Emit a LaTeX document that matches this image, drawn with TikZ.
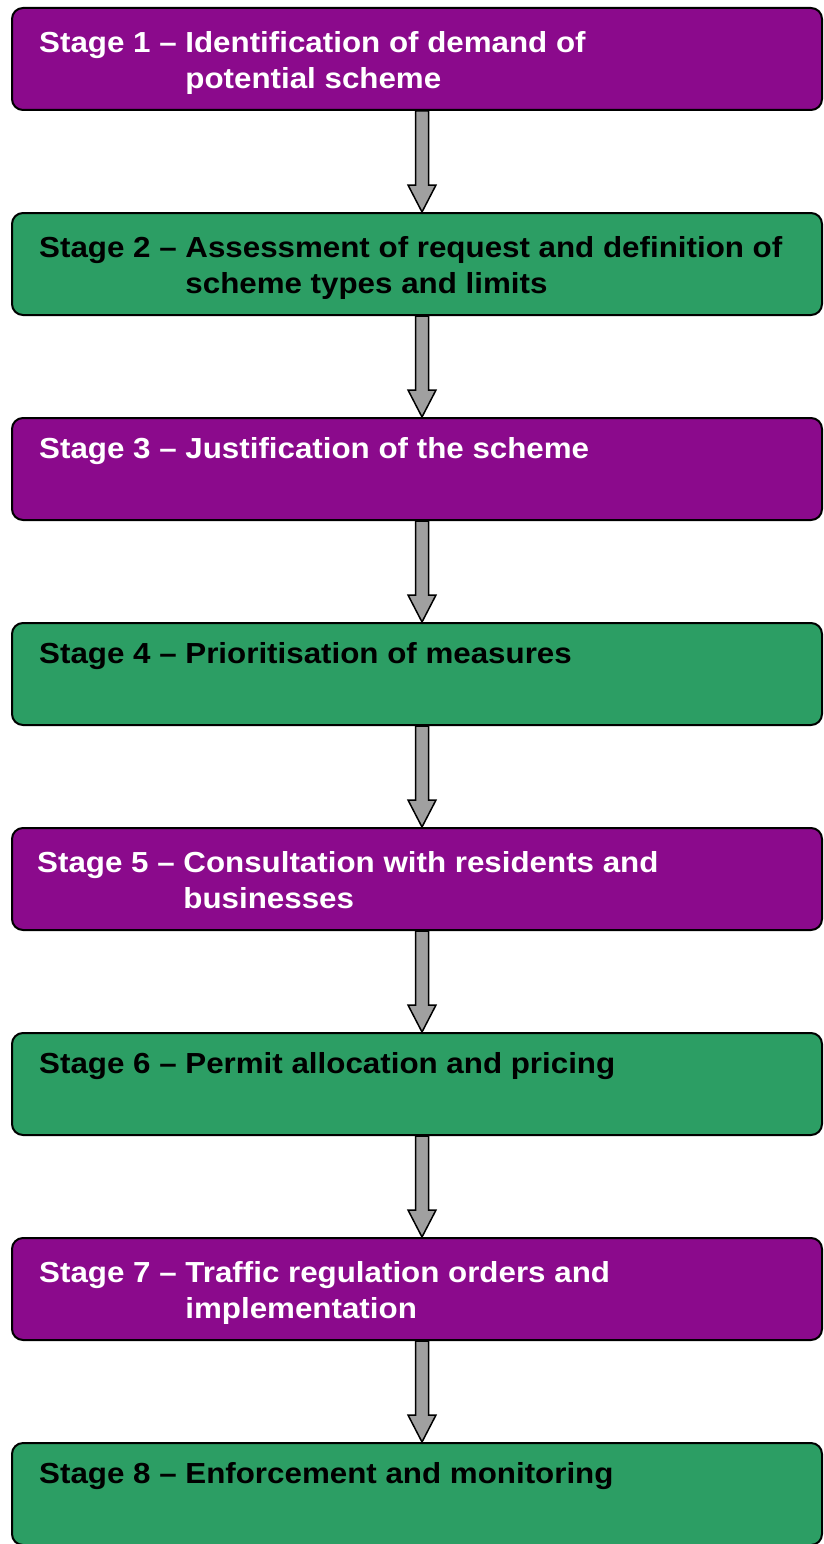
\documentclass[tikz,border=0pt]{standalone}
\usepackage{fontspec}
\setmainfont{Liberation Sans}[FakeStretch=1.08]
\usetikzlibrary{calc}
\definecolor{stpurple}{RGB}{139,10,140}
\definecolor{stgreen}{RGB}{44,158,100}
\definecolor{arrgrey}{RGB}{160,160,160}
\tikzset{
  stagebox/.style={draw=black, line width=2pt, rounded corners=11pt, minimum width=810pt, minimum height=102pt, inner sep=0pt},
  pbox/.style={stagebox, fill=stpurple},
  gbox/.style={stagebox, fill=stgreen},
  stagetext/.style={anchor=north west, inner sep=0pt, align=left, font=\fontsize{29}{36}\selectfont\bfseries},
  ptext/.style={stagetext, text=white},
  gtext/.style={stagetext, text=black},
  flowarrow/.style={draw=black, line width=1.5pt, fill=arrgrey, line join=miter}
}
\newcommand{\stagelines}[2]{#1\begin{tabular}[t]{@{}l@{}}#2\end{tabular}}
\begin{document}
\begin{tikzpicture}[x=1pt,y=-1pt]
\useasboundingbox (0,0) rectangle (823,1544);
\node[pbox] (s1) at (417,59) {};
\node[gbox] (s2) at (417,264) {};
\node[pbox] (s3) at (417,469) {};
\node[gbox] (s4) at (417,674) {};
\node[pbox] (s5) at (417,879) {};
\node[gbox] (s6) at (417,1084) {};
\node[pbox] (s7) at (417,1289) {};
\node[gbox] (s8) at (417,1494) {};
\node[ptext] (t1) at ($(s1.north west)+(28,20)$) {\stagelines{Stage 1 -- }{Identification of demand of\\potential scheme}};
\node[gtext] (t2) at ($(s2.north west)+(28,20)$) {\stagelines{Stage 2 -- }{Assessment of request and definition of\\scheme types and limits}};
\node[ptext] (t3) at ($(s3.north west)+(28,20)$) {Stage 3 -- Justification of the scheme};
\node[gtext] (t4) at ($(s4.north west)+(28,20)$) {Stage 4 -- Prioritisation of measures};
\node[ptext] (t5) at ($(s5.north west)+(26,20)$) {\stagelines{Stage 5 -- }{Consultation with residents and\\businesses}};
\node[gtext] (t6) at ($(s6.north west)+(28,20)$) {Stage 6 -- Permit allocation and pricing};
\node[ptext] (t7) at ($(s7.north west)+(28,20)$) {\stagelines{Stage 7 -- }{Traffic regulation orders and\\implementation}};
\node[gtext] (t8) at ($(s8.north west)+(28,20)$) {Stage 8 -- Enforcement and monitoring};
\foreach \a/\b in {s1/s2,s2/s3,s3/s4,s4/s5,s5/s6,s6/s7,s7/s8}{
  \draw[flowarrow] ($(\a.south)+(-1.5,0)$) -- ($(\a.south)+(11.5,0)$) -- ($(\b.north)+(11.5,-27)$) -- ($(\b.north)+(19,-27)$) -- ($(\b.north)+(5,0)$) -- ($(\b.north)+(-9,-27)$) -- ($(\b.north)+(-1.5,-27)$) -- cycle;
}
\end{tikzpicture}
\end{document}
